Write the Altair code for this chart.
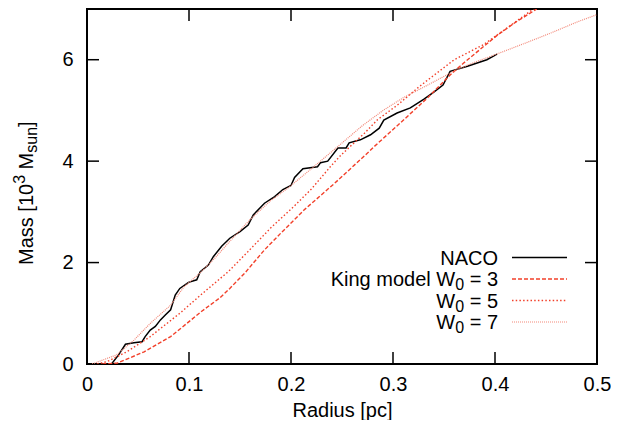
import altair as alt
import pandas as pd

# ---- data ----
naco_r = [0.024, 0.031, 0.0377, 0.046, 0.054, 0.057, 0.062, 0.067, 0.072, 0.077, 0.082,
          0.0865, 0.091, 0.0995, 0.1076, 0.111, 0.119, 0.124, 0.132, 0.140, 0.150, 0.158,
          0.163, 0.174, 0.184, 0.192, 0.200, 0.2035, 0.2117, 0.226, 0.229, 0.236, 0.246,
          0.254, 0.257, 0.268, 0.278, 0.2865, 0.291, 0.304, 0.317, 0.330, 0.340, 0.349,
          0.356, 0.373, 0.392, 0.402]
naco_m = [0.0, 0.18, 0.39, 0.42, 0.44, 0.54, 0.67, 0.74, 0.87, 0.97, 1.07,
          1.36, 1.49, 1.61, 1.66, 1.82, 1.95, 2.12, 2.32, 2.48, 2.61, 2.74,
          2.94, 3.17, 3.30, 3.44, 3.52, 3.68, 3.85, 3.89, 3.97, 4.00, 4.26,
          4.26, 4.36, 4.42, 4.52, 4.65, 4.81, 4.95, 5.05, 5.22, 5.36, 5.50,
          5.77, 5.87, 6.00, 6.11]

w3_r = [0.015, 0.03, 0.056, 0.082, 0.1125, 0.130, 0.140, 0.155, 0.174, 0.190, 0.213,
        0.238, 0.2426, 0.275, 0.2817, 0.307, 0.334, 0.356, 0.369, 0.402, 0.421, 0.441]
w3_m = [0.0, 0.02, 0.24, 0.54, 1.04, 1.30, 1.49, 1.80, 2.25, 2.58, 3.04,
        3.48, 3.56, 4.16, 4.29, 4.75, 5.25, 5.70, 5.93, 6.48, 6.75, 7.0]

w5_r = [0.01, 0.02, 0.039, 0.062, 0.091, 0.112, 0.1385, 0.158, 0.180, 0.2035, 0.220,
        0.239, 0.249, 0.272, 0.285, 0.304, 0.324, 0.334, 0.360, 0.389, 0.410, 0.4377]
w5_m = [0.0, 0.05, 0.24, 0.54, 1.00, 1.37, 1.82, 2.22, 2.68, 3.12, 3.45,
        3.90, 4.12, 4.55, 4.82, 5.10, 5.44, 5.60, 6.00, 6.30, 6.60, 7.0]

w7_r = [0.005, 0.029, 0.046, 0.062, 0.082, 0.095, 0.110, 0.125, 0.140, 0.160, 0.180,
        0.197, 0.220, 0.246, 0.270, 0.291, 0.310, 0.334, 0.360, 0.380, 0.399, 0.430,
        0.454, 0.480, 0.500]
w7_m = [0.0, 0.18, 0.47, 0.80, 1.16, 1.52, 1.78, 2.08, 2.42, 2.85, 3.22,
        3.47, 3.85, 4.29, 4.70, 5.01, 5.25, 5.50, 5.78, 5.95, 6.09, 6.33,
        6.52, 6.74, 6.89]

# legend entries: (text before subscript, subscript, text after)
legend_parts = [("NACO", "", ""), ("King model W", "0", "\u00a0=\u00a03"),
                ("W", "0", "\u00a0=\u00a05"), ("W", "0", "\u00a0=\u00a07")]
x_ticks = [0, 0.1, 0.2, 0.3, 0.4, 0.5]
y_ticks = [0, 2, 4, 6]
x_title = "Radius [pc]"
# y title pieces: (text, kind) kind: n=normal, sup, sub, gap (a space)
y_title_parts = [("Mass\u00a0[10", "n"), ("3", "sup"), (" ", "gap"), ("M", "n"),
                 ("sun", "sub"), ("]", "n")]

# ---- styles ----
styles = [
    dict(color="#000000", strokeWidth=1.5),
    dict(color="#f2402a", strokeWidth=1.4, strokeDash=[4, 2]),
    dict(color="#f2402a", strokeWidth=1.4, strokeDash=[1.5, 2.2]),
    dict(color="#f28878", strokeWidth=1.2, strokeDash=[1, 1]),
]

W, H = 510, 355
FONT = "Liberation Sans"
FS = 20
FS_SUB = 16

# Arial / Liberation Sans advance widths (em) for width estimates
ADV = {"M": .833, "a": .556, "s": .5, " ": .278, "\u00a0": .278, "[": .278, "]": .278,
       "1": .556, "0": .556, "3": .556, "5": .556, "7": .556, "u": .556, "n": .556, "=": .584}


def text_width(t, size):
    return sum(ADV.get(c, .556) for c in t) * size


x_scale = alt.Scale(domain=[0, 0.5], nice=False, zero=False)
y_scale = alt.Scale(domain=[0, 7], nice=False)

x_axis = alt.Axis(values=x_ticks, format="~g", title=x_title, ticks=False,
                  domain=False, grid=False, labelPadding=10, titlePadding=6,
                  labelFontSize=FS, titleFontSize=FS, labelFont=FONT, titleFont=FONT,
                  labelColor="black", titleColor="black", titleFontWeight="normal",
                  labelFlush=False)
y_axis = alt.Axis(values=y_ticks, format="d", title=None, ticks=False,
                  domain=False, grid=False, labelPadding=14,
                  labelFontSize=FS, labelFont=FONT, labelColor="black",
                  labelFlush=False)

all_r = [naco_r, w3_r, w5_r, w7_r]
all_m = [naco_m, w3_m, w5_m, w7_m]

layers = []
for i, (rs, ms) in enumerate(zip(all_r, all_m)):
    d = pd.DataFrame({"r": rs, "m": ms, "i": list(range(len(rs)))})
    layers.append(
        alt.Chart(d).mark_line(clip=True, **styles[i]).encode(
            x=alt.X("r:Q", scale=x_scale, axis=x_axis),
            y=alt.Y("m:Q", scale=y_scale, axis=y_axis),
            order="i:Q")
    )

# inward ticks (gnuplot style, mirrored)
xt = pd.DataFrame({"r": x_ticks[1:-1]})
yt = pd.DataFrame({"m": y_ticks[1:]})
TL = 12
tick_style = dict(color="black", strokeWidth=1.5)
layers.append(alt.Chart(xt).mark_rule(**tick_style).encode(
    x=alt.X("r:Q", scale=x_scale, axis=x_axis), y=alt.value(H), y2=alt.value(H - TL)))
layers.append(alt.Chart(xt).mark_rule(**tick_style).encode(
    x=alt.X("r:Q", scale=x_scale, axis=x_axis), y=alt.value(0), y2=alt.value(TL)))
layers.append(alt.Chart(yt).mark_rule(**tick_style).encode(
    y=alt.Y("m:Q", scale=y_scale, axis=y_axis), x=alt.value(0), x2=alt.value(TL)))
layers.append(alt.Chart(yt).mark_rule(**tick_style).encode(
    y=alt.Y("m:Q", scale=y_scale, axis=y_axis), x=alt.value(W), x2=alt.value(W - TL)))

# y-axis title built from pieces (rotated), with super/subscripts
pos = 256.0
base_x = -54.0
for txt, kind in y_title_parts:
    if kind == "gap":
        pos -= text_width(txt, FS)
        continue
    size = FS if kind == "n" else FS_SUB
    bx = base_x + {"n": 0, "sup": -8, "sub": 4}[kind]
    td = pd.DataFrame({"t": [txt]})
    layers.append(alt.Chart(td).mark_text(angle=270, align="left", baseline="alphabetic",
                                          fontSize=size, font=FONT, color="black").encode(
        text="t:N", x=alt.value(bx), y=alt.value(pos)))
    pos -= text_width(txt, size)

# legend (inside plot, right-aligned labels with sample lines at right)
row_y = [248.5, 270, 291.5, 313]
RIGHT = 411
for i, (pre, sub, post) in enumerate(legend_parts):
    xr = RIGHT
    if post:
        layers.append(alt.Chart(pd.DataFrame({"t": [post]})).mark_text(
            align="right", baseline="alphabetic", fontSize=FS, font=FONT, color="black").encode(
            text="t:N", x=alt.value(xr), y=alt.value(row_y[i] + 7)))
        xr -= text_width(post, FS)
    if sub:
        layers.append(alt.Chart(pd.DataFrame({"t": [sub]})).mark_text(
            align="right", baseline="alphabetic", fontSize=FS_SUB, font=FONT, color="black").encode(
            text="t:N", x=alt.value(xr), y=alt.value(row_y[i] + 11)))
        xr -= text_width(sub, FS_SUB)
    layers.append(alt.Chart(pd.DataFrame({"t": [pre]})).mark_text(
        align="right", baseline="alphabetic", fontSize=FS, font=FONT, color="black").encode(
        text="t:N", x=alt.value(xr), y=alt.value(row_y[i] + 7)))
    layers.append(alt.Chart(pd.DataFrame({"t": [pre]})).mark_rule(**styles[i]).encode(
        x=alt.value(425), x2=alt.value(480), y=alt.value(row_y[i])))

chart = alt.layer(*layers).properties(
    width=W, height=H,
    autosize=alt.AutoSizeParams(type="none"),
    padding={"left": 79, "top": 1, "right": 14, "bottom": 56},
    background="white",
).configure_view(stroke="black", strokeWidth=2)

chart.save("out.html", embed_options={"renderer": "svg", "actions": False})
